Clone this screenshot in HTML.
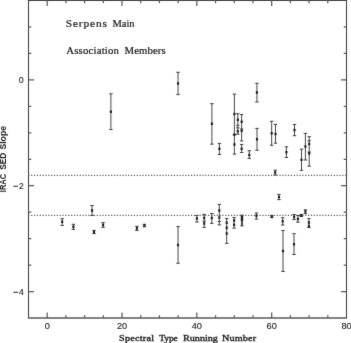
<!DOCTYPE html>
<html><head><meta charset="utf-8"><style>
html,body{margin:0;padding:0;background:#fff;}
body{width:351px;height:343px;overflow:hidden;position:relative;}
svg{position:absolute;left:0;top:0;will-change:transform;}
.t{font-family:"Liberation Serif",serif;fill:#1a1a1a;stroke:#1a1a1a;stroke-width:0.25px;}
.n{font-family:"Liberation Sans",sans-serif;fill:#1a1a1a;font-size:9.2px;stroke:#1a1a1a;stroke-width:0.12px;}
</style></head><body>
<svg width="351" height="343" viewBox="0 0 351 343">
<defs><filter id="bl" x="0" y="0" width="351" height="343" filterUnits="userSpaceOnUse"><feConvolveMatrix order="3" kernelMatrix="0.012 0.055 0.012 0.055 0.732 0.055 0.012 0.055 0.012" divisor="1" edgeMode="none"/></filter></defs>
<rect x="0" y="0" width="351" height="343" fill="#fff"/>
<g filter="url(#bl)">
<path d="M28.5 0V318M346.5 0V318" fill="none" stroke="#454545" stroke-width="1.1"/>
<path d="M27.9 0.5H347.1" fill="none" stroke="#333" stroke-width="1.1"/>
<path d="M27.9 318H347.1" fill="none" stroke="#5a5a5a" stroke-width="1.5"/>
<path d="M47.20 318.0v-5.5M47.20 0.5v5.5M65.91 318.0v-2.8M65.91 0.5v2.8M84.61 318.0v-2.8M84.61 0.5v2.8M103.32 318.0v-2.8M103.32 0.5v2.8M122.03 318.0v-5.5M122.03 0.5v5.5M140.73 318.0v-2.8M140.73 0.5v2.8M159.44 318.0v-2.8M159.44 0.5v2.8M178.14 318.0v-2.8M178.14 0.5v2.8M196.85 318.0v-5.5M196.85 0.5v5.5M215.56 318.0v-2.8M215.56 0.5v2.8M234.26 318.0v-2.8M234.26 0.5v2.8M252.97 318.0v-2.8M252.97 0.5v2.8M271.68 318.0v-5.5M271.68 0.5v5.5M290.38 318.0v-2.8M290.38 0.5v2.8M309.09 318.0v-2.8M309.09 0.5v2.8M327.79 318.0v-2.8M327.79 0.5v2.8M28.5 291.58h5.5M346.5 291.58h-5.5M28.5 265.12h2.8M346.5 265.12h-2.8M28.5 238.66h2.8M346.5 238.66h-2.8M28.5 212.20h2.8M346.5 212.20h-2.8M28.5 185.74h5.5M346.5 185.74h-5.5M28.5 159.28h2.8M346.5 159.28h-2.8M28.5 132.82h2.8M346.5 132.82h-2.8M28.5 106.36h2.8M346.5 106.36h-2.8M28.5 79.90h5.5M346.5 79.90h-5.5M28.5 53.44h2.8M346.5 53.44h-2.8M28.5 26.98h2.8M346.5 26.98h-2.8" fill="none" stroke="#5a5a5a" stroke-width="1.25"/>
<path d="M28.25 175.3H346.5M28.25 215.4H346.5" stroke="#5c5c5c" stroke-width="1.35" stroke-dasharray="1.2 1.655" fill="none"/>
<path d="M62.20 218.70V225.40M73.40 224.30V229.40M92.05 205.50V215.50M94.00 230.40V233.60M103.10 222.70V227.40M110.90 93.80V129.60M136.90 226.30V230.45M144.40 224.30V226.80M178.05 72.30V94.60M178.05 226.55V263.25M196.90 215.50V222.00M204.20 214.40V227.30M211.80 213.50V223.40M211.90 103.70V144.15M219.40 143.40V154.50M219.30 204.40V224.90M234.40 94.10V154.10M237.80 113.70V134.20M241.65 114.60V140.95M241.65 144.45V152.50M249.30 150.75V158.45M226.70 218.60V243.40M234.10 217.60V228.10M241.90 215.20V225.90M256.40 213.00V219.10M256.90 83.30V102.00M257.00 128.40V150.30M271.65 121.30V145.30M275.50 124.40V143.20M275.20 170.20V175.00M279.00 194.40V199.60M271.80 215.60V217.60M282.70 217.70V225.00M283.00 230.50V271.50M286.40 146.80V157.50M294.50 124.50V135.70M294.10 214.50V219.60M297.90 215.50V222.20M294.00 233.70V254.50M301.30 214.50V216.50M301.50 149.20V170.30M305.40 133.40V160.00M305.40 209.80V213.60M309.20 136.70V166.20M308.90 218.60V227.50" fill="none" stroke="#484848" stroke-width="1.0"/>
<path d="M60.50 218.70h3.4M60.50 225.40h3.4M71.70 224.30h3.4M71.70 229.40h3.4M90.35 205.50h3.4M90.35 215.50h3.4M92.30 230.40h3.4M92.30 233.60h3.4M101.40 222.70h3.4M101.40 227.40h3.4M109.20 93.80h3.4M109.20 129.60h3.4M135.20 226.30h3.4M135.20 230.45h3.4M142.70 224.30h3.4M142.70 226.80h3.4M176.35 72.30h3.4M176.35 94.60h3.4M176.35 226.55h3.4M176.35 263.25h3.4M195.20 215.50h3.4M195.20 222.00h3.4M202.50 214.40h3.4M202.50 227.30h3.4M202.50 221.20h3.4M210.10 213.50h3.4M210.10 223.40h3.4M210.20 103.70h3.4M210.20 144.15h3.4M217.70 143.40h3.4M217.70 154.50h3.4M217.60 204.40h3.4M217.60 224.90h3.4M217.60 221.40h3.4M232.70 94.10h3.4M232.70 154.10h3.4M232.70 134.50h3.4M236.10 113.70h3.4M236.10 134.20h3.4M236.10 125.30h3.4M236.10 127.90h3.4M239.95 114.60h3.4M239.95 140.95h3.4M239.95 129.00h3.4M239.95 144.45h3.4M239.95 152.50h3.4M247.60 150.75h3.4M247.60 158.45h3.4M225.00 218.60h3.4M225.00 243.40h3.4M232.40 217.60h3.4M232.40 228.10h3.4M240.20 215.20h3.4M240.20 225.90h3.4M254.70 213.00h3.4M254.70 219.10h3.4M255.20 83.30h3.4M255.20 102.00h3.4M255.30 128.40h3.4M255.30 150.30h3.4M269.95 121.30h3.4M269.95 145.30h3.4M273.80 124.40h3.4M273.80 143.20h3.4M273.50 170.20h3.4M273.50 175.00h3.4M277.30 194.40h3.4M277.30 199.60h3.4M270.10 215.60h3.4M270.10 217.60h3.4M281.00 217.70h3.4M281.00 225.00h3.4M281.30 230.50h3.4M281.30 271.50h3.4M284.70 146.80h3.4M284.70 157.50h3.4M292.80 124.50h3.4M292.80 135.70h3.4M292.40 214.50h3.4M292.40 219.60h3.4M296.20 215.50h3.4M296.20 222.20h3.4M292.30 233.70h3.4M292.30 254.50h3.4M299.60 214.50h3.4M299.60 216.50h3.4M299.80 149.20h3.4M299.80 170.30h3.4M303.70 133.40h3.4M303.70 160.00h3.4M303.70 209.80h3.4M303.70 213.60h3.4M307.50 136.70h3.4M307.50 166.20h3.4M307.50 140.80h3.4M307.50 152.10h3.4M307.20 218.60h3.4M307.20 227.50h3.4" fill="none" stroke="#3c3c3c" stroke-width="1.0"/>
<path d="M61.15 220.55h2.1v2.5h-2.1zM72.35 225.55h2.1v2.5h-2.1zM91.00 209.35h2.1v2.5h-2.1zM92.95 230.85h2.1v2.5h-2.1zM102.05 223.85h2.1v2.5h-2.1zM109.85 110.45h2.1v2.5h-2.1zM135.85 227.05h2.1v2.5h-2.1zM143.35 224.35h2.1v2.5h-2.1zM177.00 82.15h2.1v2.5h-2.1zM177.00 243.75h2.1v2.5h-2.1zM195.85 217.25h2.1v2.5h-2.1zM203.15 216.85h2.1v2.5h-2.1zM203.15 222.15h2.1v2.5h-2.1zM210.75 216.85h2.1v2.5h-2.1zM210.85 122.55h2.1v2.5h-2.1zM218.35 147.55h2.1v2.5h-2.1zM218.25 209.25h2.1v2.5h-2.1zM218.25 216.25h2.1v2.5h-2.1zM233.35 112.85h2.1v2.5h-2.1zM233.35 133.45h2.1v2.5h-2.1zM233.35 143.20h2.1v2.5h-2.1zM236.75 118.55h2.1v2.5h-2.1zM236.75 129.95h2.1v2.5h-2.1zM240.60 120.55h2.1v2.5h-2.1zM240.60 129.45h2.1v2.5h-2.1zM240.60 147.45h2.1v2.5h-2.1zM248.25 153.65h2.1v2.5h-2.1zM225.65 221.45h2.1v2.5h-2.1zM225.65 226.55h2.1v2.5h-2.1zM225.65 232.15h2.1v2.5h-2.1zM233.05 219.35h2.1v2.5h-2.1zM233.05 223.45h2.1v2.5h-2.1zM255.35 214.45h2.1v2.5h-2.1zM255.85 91.30h2.1v2.5h-2.1zM255.95 137.95h2.1v2.5h-2.1zM270.60 131.95h2.1v2.5h-2.1zM274.45 132.65h2.1v2.5h-2.1zM274.15 171.25h2.1v2.5h-2.1zM277.95 195.75h2.1v2.5h-2.1zM270.75 215.35h2.1v2.5h-2.1zM281.65 220.05h2.1v2.5h-2.1zM281.95 249.65h2.1v2.5h-2.1zM285.35 150.95h2.1v2.5h-2.1zM293.45 128.85h2.1v2.5h-2.1zM293.05 215.85h2.1v2.5h-2.1zM296.85 217.65h2.1v2.5h-2.1zM292.95 242.95h2.1v2.5h-2.1zM300.25 214.25h2.1v2.5h-2.1zM300.45 158.45h2.1v2.5h-2.1zM304.35 145.35h2.1v2.5h-2.1zM304.35 210.35h2.1v2.5h-2.1zM308.15 142.75h2.1v2.5h-2.1zM308.15 152.35h2.1v2.5h-2.1zM307.85 221.25h2.1v2.5h-2.1zM307.85 224.75h2.1v2.5h-2.1z" fill="#1c1c1c" stroke="none"/>
<path d="M240.75 215.8h2.4v5.6h-2.4z" fill="#1c1c1c"/><path d="M241.0 221.4h1.9v4.0h-1.9z" fill="#444"/>
<text class="n" x="47.2" y="328.9" text-anchor="middle">0</text>
<text class="n" x="122.03" y="328.9" text-anchor="middle">20</text>
<text class="n" x="196.85" y="328.9" text-anchor="middle">40</text>
<text class="n" x="271.68" y="328.9" text-anchor="middle">60</text>
<text class="n" x="346.50" y="328.9" text-anchor="middle">80</text>
<text class="n" x="23.6" y="82.8" text-anchor="end" style="font-size:8.8px">0</text>
<text class="n" x="23.8" y="188.9" text-anchor="end" style="font-size:8.6px">2</text>
<text class="n" x="23.7" y="294.9" text-anchor="end" style="font-size:8.6px">4</text>
<path d="M13.3 186.2H18.1M13.3 292.3H18.1" stroke="#2a2a2a" stroke-width="1.1"/>
<g transform="translate(6.2,0) rotate(-90)" style="font-family:'Liberation Sans',sans-serif;font-size:8.4px;font-weight:bold;fill:#1a1a1a">
<text x="-192.2" y="0" textLength="18.2" lengthAdjust="spacingAndGlyphs">IRAC</text>
<text x="-169.8" y="0" textLength="17.2" lengthAdjust="spacingAndGlyphs">SED</text>
<text x="-149.6" y="0" textLength="23.6" lengthAdjust="spacingAndGlyphs">Slope</text>
</g>
<text class="t" transform="translate(65.70,27.0) scale(1.120,1)" x="0" y="0" font-size="10.2px" style="stroke-width:0.2px" textLength="36.88" lengthAdjust="spacing">Serpens</text>
<text class="t" transform="translate(112.50,27.0) scale(1.036,1)" x="0" y="0" font-size="10.2px" style="stroke-width:0.2px" textLength="21.32" lengthAdjust="spacing">Main</text>
<text class="t" transform="translate(66.20,53.8) scale(1.120,1)" x="0" y="0" font-size="9.6px" style="stroke-width:0.2px" textLength="47.14" lengthAdjust="spacing">Association</text>
<text class="t" transform="translate(124.50,53.8) scale(1.120,1)" x="0" y="0" font-size="9.6px" style="stroke-width:0.2px" textLength="36.79" lengthAdjust="spacing">Members</text>
<text class="t" transform="translate(119.00,340.9) scale(1.120,1)" x="0" y="0" font-size="9.1px" style="stroke-width:0.35px" textLength="31.25" lengthAdjust="spacing">Spectral</text>
<text class="t" transform="translate(159.20,340.9) scale(1.041,1)" x="0" y="0" font-size="9.1px" style="stroke-width:0.35px" textLength="17.87" lengthAdjust="spacing">Type</text>
<text class="t" transform="translate(183.00,340.9) scale(1.120,1)" x="0" y="0" font-size="9.1px" style="stroke-width:0.35px" textLength="31.16" lengthAdjust="spacing">Running</text>
<text class="t" transform="translate(221.90,340.9) scale(1.120,1)" x="0" y="0" font-size="9.1px" style="stroke-width:0.35px" textLength="30.54" lengthAdjust="spacing">Number</text>
</g>
</svg>
</body></html>
